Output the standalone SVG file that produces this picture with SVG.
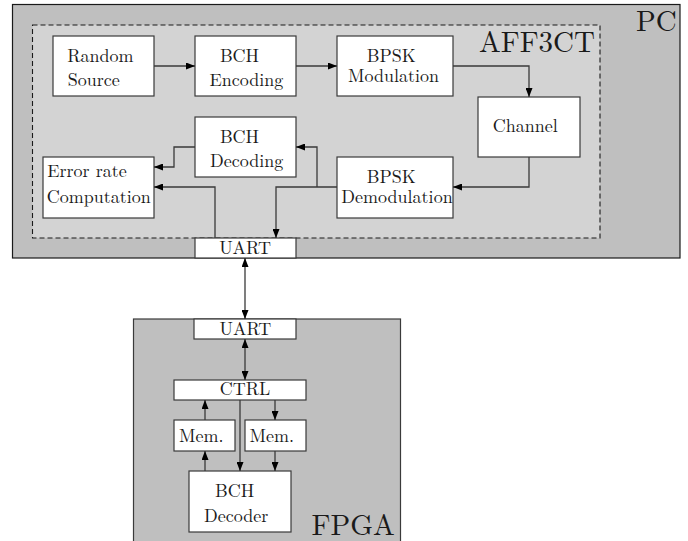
<svg xmlns="http://www.w3.org/2000/svg" width="688" height="541" viewBox="0 0 688 541">
<defs>
<style>
.box{fill:#ffffff;stroke:#3a3a3a;stroke-width:1.2}
.t{font-family:"Latin Modern Roman","Liberation Serif","DejaVu Serif",serif;font-size:18px;fill:#1a1a1a;text-anchor:middle}
.big{font-family:"Latin Modern Roman","Liberation Serif","DejaVu Serif",serif;font-size:29px;fill:#1a1a1a}
.c{fill:none;stroke:#3a3a3a;stroke-width:1.3}
</style>
<marker id="ah" markerUnits="userSpaceOnUse" markerWidth="9" markerHeight="7" refX="9" refY="3.5" orient="auto-start-reverse">
<path d="M0,0 L9,3.5 L0,7 z" fill="#000"/>
</marker>
</defs>
<rect width="688" height="541" fill="#ffffff"/>
<g id="pc">
<rect x="12.5" y="4.5" width="667.5" height="253.5" fill="#bfbfbf" stroke="#1a1a1a" stroke-width="1.2"/>
<text class="big" x="636" y="30.5">PC</text>
</g>
<g id="aff3ct">
<rect x="32.5" y="25" width="567.5" height="213" fill="#d3d3d3" stroke="#1a1a1a" stroke-width="1.1" stroke-dasharray="5,3"/>
<text class="big" x="479" y="51.5">AFF3CT</text>
</g>
<g id="fpga">
<rect x="133.5" y="319" width="267" height="230" fill="#bfbfbf" stroke="#3a3a3a" stroke-width="1.2"/>
<text class="big" x="311.5" y="535">FPGA</text>
</g>
<g id="random-source">
<rect class="box" x="53" y="36" width="101" height="60"/>
<text class="t" x="100.5" y="61.5">Random</text>
<text class="t" x="93.7" y="86">Source</text>
</g>
<g id="bch-encoding">
<rect class="box" x="195" y="36" width="101" height="60"/>
<text class="t" x="239.5" y="61.5">BCH</text>
<text class="t" x="246.3" y="86">Encoding</text>
</g>
<g id="bpsk-modulation">
<rect class="box" x="337" y="36" width="116" height="60"/>
<text class="t" x="391.2" y="61.5">BPSK</text>
<text class="t" x="393.5" y="81.5">Modulation</text>
</g>
<g id="channel">
<rect class="box" x="478" y="97" width="102" height="60"/>
<text class="t" x="525.3" y="131.5">Channel</text>
</g>
<g id="bpsk-demodulation">
<rect class="box" x="337" y="157" width="116" height="61"/>
<text class="t" x="391.2" y="183">BPSK</text>
<text class="t" x="397" y="203.3">Demodulation</text>
</g>
<g id="bch-decoding">
<rect class="box" x="195" y="117" width="101" height="60"/>
<text class="t" x="239.5" y="143.3">BCH</text>
<text class="t" x="246.7" y="166.7">Decoding</text>
</g>
<g id="error-rate">
<rect class="box" x="43" y="157" width="111" height="61"/>
<text class="t" x="87" y="176.7">Error rate</text>
<text class="t" x="98.7" y="203.3">Computation</text>
</g>
<g id="uart-pc">
<rect class="box" x="195" y="238" width="101" height="20"/>
<text class="t" x="245" y="253.5">UART</text>
</g>
<g id="uart-fpga">
<rect class="box" x="194" y="319" width="102" height="20"/>
<text class="t" x="245.3" y="335">UART</text>
</g>
<g id="ctrl">
<rect class="box" x="174" y="380" width="132" height="20"/>
<text class="t" x="245" y="395">CTRL</text>
</g>
<g id="mem-left">
<rect class="box" x="174" y="420" width="61" height="31"/>
<text class="t" x="201.3" y="441.7">Mem.</text>
</g>
<g id="mem-right">
<rect class="box" x="245" y="420" width="61" height="31"/>
<text class="t" x="271.7" y="441.7">Mem.</text>
</g>
<g id="bch-decoder">
<rect class="box" x="189" y="471" width="102" height="61"/>
<text class="t" x="234.7" y="496.7">BCH</text>
<text class="t" x="236.2" y="521.7">Decoder</text>
</g>
<g id="connectors">
<path class="c" d="M154,66 H195" marker-end="url(#ah)"/>
<path class="c" d="M296,66 H337" marker-end="url(#ah)"/>
<path class="c" d="M453,66 H529 V97" marker-end="url(#ah)"/>
<path class="c" d="M529,157 V187 H453" marker-end="url(#ah)"/>
<path class="c" d="M337,187 H276 V238" marker-end="url(#ah)"/>
<path class="c" d="M317,187 V147 H296" marker-end="url(#ah)"/>
<path class="c" d="M195,147 H174 V167 H154" marker-end="url(#ah)"/>
<path class="c" d="M215,238 V187 H154" marker-end="url(#ah)"/>
<path class="c" d="M245,258 V319" marker-start="url(#ah)" marker-end="url(#ah)"/>
<path class="c" d="M245,339 V380" marker-start="url(#ah)" marker-end="url(#ah)"/>
<path class="c" d="M205,420 V400" marker-end="url(#ah)"/>
<path class="c" d="M205,471 V451" marker-end="url(#ah)"/>
<path class="c" d="M240,400 V471" marker-end="url(#ah)"/>
<path class="c" d="M275,400 V420" marker-end="url(#ah)"/>
<path class="c" d="M275,451 V471" marker-end="url(#ah)"/>
</g>
</svg>
